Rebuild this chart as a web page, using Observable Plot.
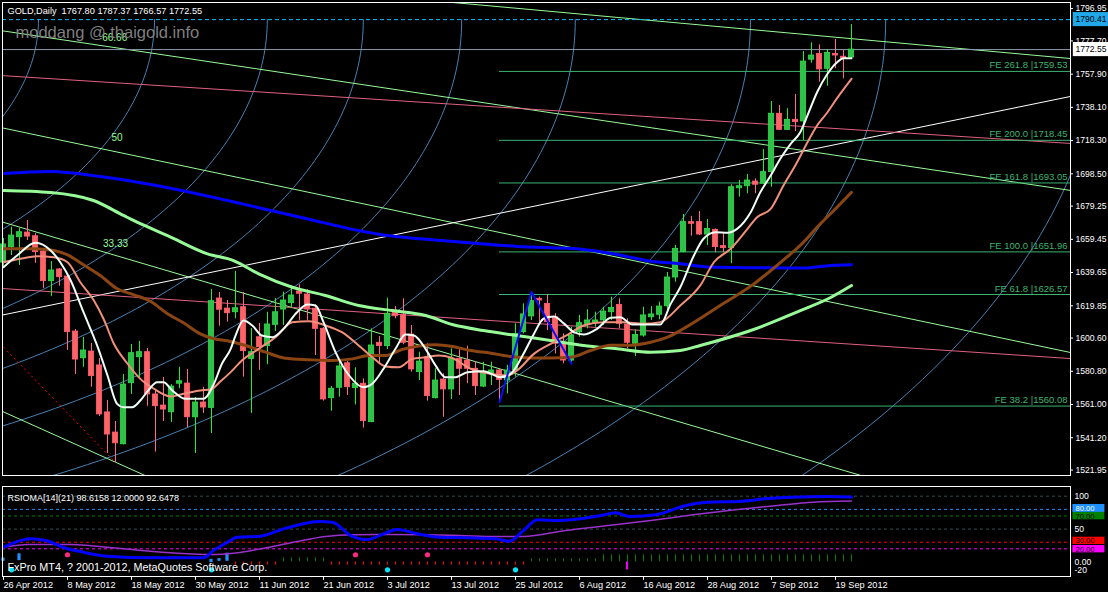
<!DOCTYPE html>
<html><head><meta charset="utf-8">
<script src="https://cdn.jsdelivr.net/npm/d3@7"></script>
<script src="https://cdn.jsdelivr.net/npm/@observablehq/plot@0.6"></script>
<style>
html,body{margin:0;padding:0;background:#000;overflow:hidden;width:1108px;height:592px;}
#chart svg{display:block;}
svg text{white-space:pre;}
</style></head><body><div id="chart"></div>
<script>
// ---------- DATA: daily GOLD candles (26 Apr 2012 .. 21 Sep 2012), bar index 0..106 ----------
const opens = [1645.6,1654.8,1660.7,1663.5,1661.3,1652.2,1634.5,1641.5,1637.3,1604.5,
1588.6,1592.6,1584.3,1556.3,1544.3,1537.3,1573.7,1589.2,1592.2,1567.0,
1560.4,1556.4,1573.4,1573.5,1553.4,1562.2,1559.0,1624.2,1618.2,1616.0,
1619.0,1588.2,1601.1,1595.8,1608.5,1617.6,1621.4,1628.4,1626.6,1618.1,
1606.1,1564.8,1571.0,1585.6,1570.8,1573.4,1550.5,1597.8,1595.8,1615.7,
1614.5,1602.7,1580.3,1589.2,1564.8,1575.9,1570.0,1588.2,1587.2,1582.3,
1571.7,1579.7,1581.3,1575.3,1581.3,1604.1,1613.5,1624.0,1621.0,1613.0,
1597.6,1587.2,1604.1,1609.1,1609.8,1611.1,1616.0,1620.4,1608.7,1597.2,
1602.1,1613.0,1614.5,1619.6,1636.7,1651.8,1669.7,1669.7,1662.3,1665.1,
1655.4,1654.2,1689.9,1691.1,1693.9,1692.6,1699.5,1734.3,1724.7,1730.7,
1729.7,1766.5,1770.0,1761.1,1770.0,1768.2,1767.80];
const highs = [1660.0,1666.7,1665.9,1670.7,1662.9,1654.0,1646.2,1642.1,1637.9,1605.7,
1601.0,1597.4,1588.4,1563.4,1550.9,1578.9,1596.8,1598.6,1594.4,1569.4,
1577.1,1572.9,1583.2,1581.9,1565.2,1571.3,1629.6,1627.8,1623.0,1640.3,
1627.8,1606.3,1609.3,1616.0,1624.2,1628.0,1631.9,1632.4,1629.4,1620.4,
1606.9,1571.7,1586.6,1586.6,1582.9,1576.3,1606.1,1601.5,1624.4,1619.4,
1624.0,1608.1,1592.2,1597.2,1582.3,1579.3,1594.2,1594.2,1595.8,1586.6,
1586.2,1586.2,1581.9,1584.3,1609.1,1621.0,1628.0,1625.0,1626.4,1615.1,
1603.1,1607.1,1614.1,1617.5,1616.0,1619.0,1625.0,1624.0,1612.1,1605.5,
1619.0,1619.4,1622.0,1639.7,1655.8,1674.3,1673.1,1676.0,1671.3,1665.7,
1662.8,1692.0,1694.5,1698.1,1695.5,1713.0,1741.6,1739.2,1737.3,1745.8,
1771.4,1776.6,1775.4,1772.6,1778.6,1772.0,1787.37];
const lows = [1643.3,1649.8,1643.9,1658.8,1645.1,1630.2,1625.4,1631.5,1593.2,1578.9,
1583.2,1571.3,1553.9,1531.8,1526.4,1536.9,1567.0,1576.0,1560.0,1532.6,
1550.9,1550.3,1570.4,1547.3,1531.8,1555.7,1543.7,1607.7,1610.1,1612.1,
1577.3,1555.7,1581.3,1584.7,1604.5,1608.1,1618.1,1611.1,1611.1,1590.2,
1563.0,1557.0,1565.4,1566.4,1560.8,1546.9,1550.2,1585.3,1593.8,1612.1,
1596.6,1580.3,1575.3,1563.0,1564.3,1553.4,1564.0,1566.4,1573.4,1566.4,
1571.1,1572.3,1561.8,1567.4,1577.3,1603.1,1611.1,1610.1,1605.1,1591.2,
1585.3,1586.2,1601.1,1606.1,1607.1,1608.1,1611.1,1606.1,1594.2,1589.6,
1601.1,1611.1,1611.5,1617.0,1633.9,1651.4,1661.3,1661.7,1655.8,1651.4,
1651.4,1644.9,1684.6,1686.6,1686.6,1692.1,1690.5,1724.3,1724.3,1723.7,
1718.4,1764.4,1753.1,1750.7,1761.1,1755.1,1766.57];
const closes = [1656.4,1661.7,1663.7,1661.1,1651.8,1634.5,1640.9,1636.9,1604.1,1587.8,
1593.2,1577.9,1555.1,1543.1,1537.9,1572.9,1591.6,1592.2,1567.0,1560.0,
1558.0,1571.7,1574.9,1553.4,1562.2,1559.2,1622.6,1617.5,1615.4,1618.4,
1592.8,1592.2,1595.2,1608.7,1616.0,1623.0,1626.0,1627.0,1617.6,1606.1,
1564.0,1570.4,1583.7,1571.3,1573.4,1551.1,1596.2,1595.8,1615.1,1613.6,
1597.8,1581.9,1586.6,1566.0,1575.3,1570.0,1588.2,1582.3,1582.3,1571.9,
1580.3,1581.3,1575.7,1581.3,1603.1,1614.7,1622.6,1623.0,1610.1,1597.2,
1587.2,1602.1,1609.5,1611.1,1611.1,1616.4,1618.6,1609.1,1597.8,1602.5,
1614.1,1614.7,1619.4,1636.7,1653.8,1669.7,1668.7,1662.3,1665.7,1654.8,
1654.2,1690.5,1691.1,1694.5,1692.0,1699.5,1734.3,1724.7,1730.7,1729.3,
1765.4,1769.0,1760.7,1770.6,1769.0,1767.4,1772.55];

// moving averages: [bar, price]
const maWhite = [[0,1642.8],[1.7,1649.8],[4,1657.4],[5.9,1652.8],[7.1,1645.8],[8.4,1634.9],[10,1616.0],[11.7,1596.2],[13,1578.3],[14.2,1561.4],[15,1559.4],[16.1,1559.4],[17.1,1563.4],[18.1,1569.4],[19.2,1574.3],[20,1574.3],[21.1,1569.4],[22.75,1564.4],[25,1564.4],[26.3,1573.4],[27.3,1585.3],[28.4,1594.2],[29,1602.1],[30,1611.1],[31.1,1608.1],[32.3,1602.1],[33.6,1601.1],[35,1606.1],[36.7,1616.0],[38,1620.6],[39,1620.0],[40,1610.1],[41.5,1592.2],[43.2,1578.3],[45,1571.3],[46.1,1573.4],[47.5,1582.3],[49,1594.2],[50.25,1602.7],[51.3,1602.1],[52.75,1594.2],[54,1584.3],[55.25,1577.3],[56.5,1577.3],[58,1580.3],[60,1580.9],[62.1,1577.3],[63.4,1579.3],[65,1591.2],[66.3,1603.1],[67.5,1612.1],[68.8,1613.5],[70,1609.5],[71.3,1604.1],[72.5,1602.7],[74.2,1606.1],[75.9,1612.7],[77.1,1613.0],[78.6,1608.7],[80.9,1608.7],[82.1,1608.7],[83.4,1621.0],[84.6,1630.9],[86.3,1649.8],[87.5,1659.8],[89,1663.7],[90.5,1663.4],[91.7,1665.7],[93.4,1675.6],[94.6,1687.5],[95.9,1697.5],[97.1,1707.5],[98.4,1716.4],[99.6,1723.3],[100.5,1733.3],[101.7,1747.1],[103,1758.1],[104.2,1765.0],[105,1767.4],[106,1767.4]];
const maSalmon = [[0,1645.8],[2.1,1647.9],[4.2,1649.4],[6.3,1648.8],[8,1645.8],[9.6,1633.9],[11.3,1623.0],[12.5,1612.1],[13.8,1597.2],[15.5,1585.3],[17.1,1576.3],[18.8,1570.4],[20.9,1565.8],[22.5,1567.4],[24.6,1569.4],[25.9,1570.0],[27.1,1574.7],[28.4,1580.3],[29.8,1587.2],[31.9,1594.2],[34,1601.1],[36.1,1610.1],[38.2,1610.7],[40.25,1608.1],[42.3,1604.1],[44.4,1596.2],[46.1,1589.2],[47.75,1583.7],[49.4,1583.2],[51.1,1588.2],[52.75,1589.2],[54.4,1590.2],[56,1588.9],[58.4,1582.3],[60.9,1579.3],[63,1578.3],[64.2,1581.3],[66.3,1591.2],[68.4,1597.2],[70.5,1602.5],[72.5,1608.1],[75,1610.1],[77.5,1610.1],[80,1609.1],[82.1,1610.1],[84.6,1620.0],[87.1,1632.0],[88.8,1645.8],[90.9,1653.8],[93,1665.7],[94.2,1672.6],[95.9,1677.6],[97.5,1691.5],[99.2,1705.4],[100.5,1717.3],[101.7,1727.3],[103,1735.2],[104.2,1743.6],[106,1755.1]];
const maBrown = [[0,1653.8],[3.8,1653.8],[6.3,1652.8],[8,1650.2],[10,1644.3],[12.1,1637.9],[14.2,1630.0],[16.3,1626.4],[18.4,1622.4],[20.5,1615.1],[22.5,1609.7],[24.6,1603.1],[26.3,1600.2],[28.1,1598.9],[30.25,1596.2],[32.75,1592.2],[35.25,1588.6],[38.2,1587.7],[41.1,1587.2],[43.6,1588.2],[45.7,1590.2],[47.75,1590.2],[49.8,1593.8],[51.9,1595.8],[54,1596.6],[56.1,1595.6],[58.4,1593.2],[60.9,1591.6],[63.4,1589.6],[65.9,1588.8],[68.4,1588.8],[70.9,1589.2],[73.4,1593.2],[75.9,1596.4],[78.4,1596.4],[80.9,1598.1],[83,1601.1],[84.6,1605.1],[89.6,1620.0],[93.8,1632.9],[97.1,1645.6],[100,1657.7],[101.7,1666.7],[104.2,1678.6],[106,1687.5]];
const maPaleGreen = [[0,1688.6],[5.9,1687.4],[11.25,1682.6],[15,1673.7],[16.25,1670.7],[20.5,1661.7],[25.5,1650.8],[28.75,1646.8],[31.9,1638.9],[36.1,1630.9],[40.25,1626.0],[44.4,1620.0],[48.6,1617.0],[52.75,1614.1],[56.1,1608.7],[60,1605.1],[64.2,1602.1],[68.4,1599.2],[72.5,1596.2],[76.7,1594.2],[80.9,1592.2],[84.6,1593.2],[87.1,1596.2],[93.4,1605.1],[99.6,1617.0],[103.4,1624.8],[106,1631.9]];
const maBlue = [[0,1698.7],[5.9,1699.9],[12.1,1696.9],[18.4,1692.1],[24.6,1686.2],[28,1682.6],[37.1,1672.6],[47.1,1662.3],[55.9,1658.3],[64.2,1655.2],[72.5,1653.4],[76.7,1650.4],[80.9,1646.4],[84.6,1644.9],[88.4,1642.9],[93.75,1642.5],[100,1642.3],[103.4,1643.9],[106,1644.3]];

// Fibonacci expansion levels
const feValues = [1759.53,1718.45,1693.05,1651.96,1626.57,1560.08];
const feLabels = ["FE 261.8 |1759.53","FE 200.0 |1718.45","FE 161.8 |1693.05","FE 100.0 |1651.96","FE 61.8 |1626.57","FE 38.2 |1560.08"];
const feStartBar = 62;

// drawn trend / fan lines: [bar1, price1, bar2, price2]
const paleLines = [[-0.375,1783.9,133.375,1688.6],[53.4,1801.8,133.375,1767.2],[-0.375,1670.1,108.4,1517.0],[-0.375,1726.1,133.375,1592.0],[-0.375,1557.4,18.4,1517.2]];
const whiteLines = [[-0.375,1614.1,133.375,1744.6]];
const pinkLines = [[-0.375,1630.2,133.375,1588.4],[-0.375,1757.1,133.375,1716.6]];
const redDotted = [[0,1595.2,14,1526.4]];
const zigzag = [[62,1562.4],[66,1628.0],[71,1585.3]];
const fanLabels = [{b:13.9,p:1779.7,t:"66.66"},{b:14.2,p:1720.1,t:"50"},{b:14,p:1657.0,t:"33.33"}];

// Fibonacci arcs: common centre, radii (bars / price)
const arcCenterBar = -69.125, arcCenterPrice = 1790.41;
const arcRxBars = [73.5,88,102.1,114.1,126.4,140.6,162.5,179.4,206.5];
const arcRyPrice = [168.2,201.4,233.7,261.1,289.1,321.8,371.8,410.4,472.5];

const priceTicks = [1796.95,1777.70,1757.90,1738.10,1718.30,1698.50,1679.25,1659.45,1639.65,1619.85,1600.60,1580.80,1561.00,1541.20,1521.95];
const dashLevel = 1790.41, bidLevel = 1772.55;

// RSIOMA indicator
const rsioma = [[0,22.4],[3.4,35.2],[5.25,32.6],[8,20.0],[10,14.8],[13,8.7],[18.4,6.3],[25,6.3],[26.25,17.4],[28,30.0],[29.2,37.6],[32.1,39.2],[35,50.4],[37.1,57.0],[39.4,61.5],[41.1,60.5],[43.4,40.2],[45.5,34.1],[47.5,42.8],[49.2,49.4],[51.75,42.8],[54.4,37.6],[57.9,36.7],[61.5,35.2],[63.2,31.6],[65,47.8],[66.75,64.1],[69.4,63.0],[72.1,65.6],[74.7,70.6],[76.5,74.8],[78.25,69.1],[81.75,72.2],[85.3,85.9],[88,90.9],[92.4,92.4],[95,96.0],[98.6,98.5],[103,99.5],[106,98.6]];
const rsiSignal = [[0,22.4],[3.1,26.5],[8.5,26.5],[12.9,22.4],[17.25,17.4],[21.7,13.3],[26.1,11.3],[28.75,13.3],[33.2,22.4],[36.7,31.1],[40.25,38.7],[43.75,41.3],[48.2,41.7],[52.6,41.3],[57,40.2],[61.5,38.7],[65,38.7],[70.25,47.8],[75.6,55.4],[80.9,63.0],[86.2,71.7],[91.5,79.3],[96.75,85.9],[101.2,90.9],[106,92.6]];
const histogram = [null,null,null,null,null,null,null,null,null,null,
null,null,null,null,null,null,null,null,null,null,
null,null,null,null,null,null,null,null,null,-5,
-5,-5,-5,-5,-5,6,6,6,6,6,
6,-5,-5,-5,-5,-5,-5,-5,-5,-5,
-5,-5,-5,-5,-5,-5,-5,-5,-5,-5,
-5,-5,-5,-5,-5,-5,5,5,5,5,
5,5,5,5,5,11,11,11,11,11,
11,11,11,11,11,11,11,11,11,11,
11,11,11,11,11,11,11,11,11,11,
11,11,11,11,11,11,11];
const blueBarIdx = [0,2,26,27,28], blueBarLo = [1,2,-1,1,1], blueBarHi = [6,12.4,4,5,13.3];
const pinkDotIdx = [8,44,53], pinkDotVal = 11;
const cyanDotIdx = [1,26,48,64], cyanDotVal = -12;
const magentaBar = {i:78, lo:-12, hi:0};
const levels = [{v:100,c:"#2f4f4f"},{v:80,c:"#1e90ff"},{v:70,c:"#008000"},{v:50,c:"#2f4f4f"},{v:30,c:"#ff0000"},{v:20,c:"#ff00ff"}];
const indLabels = [{v:100,t:"100"},{v:50,t:"50"},{v:0,t:"0.00"},{v:-12,t:"-20"}];
const indBoxes = [{lo:75.3,hi:87.4,t:"80.00",bg:"#1e90ff",fg:"#ffffff"},{lo:64.1,hi:75.3,t:"70.00",bg:"#008000",fg:"#000000"},{lo:26.5,hi:37.6,t:"30.00",bg:"#ff0000",fg:"#000000"},{lo:13.9,hi:25,t:"20.00",bg:"#ff00ff",fg:"#000000"}];

const dateTickIdx = [0,8,16,24,32,40,48,56,64,72,80,88,96,104];
const dateLabels = ["26 Apr 2012","8 May 2012","18 May 2012","30 May 2012","11 Jun 2012","21 Jun 2012","3 Jul 2012","13 Jul 2012","25 Jul 2012","6 Aug 2012","16 Aug 2012","28 Aug 2012","7 Sep 2012","19 Sep 2012"];

const headerText = "GOLD,Daily  1767.80 1787.37 1766.57 1772.55";
const watermark = "moddang @ thaigold.info";
const indTitle = "RSIOMA[14](21) 98.6158 12.0000 92.6478";
const copyright = "FxPro MT4, ? 2001-2012, MetaQuotes Software Corp.";

// ---------- BUILD ----------
const XMIN = -0.125, XMAX = 133.375;
const FONT = "'Liberation Sans', Arial, sans-serif";
const candles = opens.map((o,i)=>({i, o, h:highs[i], l:lows[i], c:closes[i], up: closes[i] >= o}));
const arcPts = arcRxBars.flatMap((rx,k)=>d3.range(0,121).map(j=>{const t=j/120*Math.PI/2; return {k, x: arcCenterBar + rx*Math.cos(t), y: arcCenterPrice - arcRyPrice[k]*Math.sin(t)};}));
const seg = (arr) => arr.map(a=>({x1:a[0],y1:a[1],x2:a[2],y2:a[3]}));

const main = Plot.plot({
  width:1108, height:478, marginLeft:2, marginRight:38, marginTop:2, marginBottom:3,
  style:{background:"#000", color:"#fff", fontFamily:FONT, fontSize:"9px"},
  x:{domain:[XMIN,XMAX], axis:null},
  y:{domain:[1518.7,1800.6], axis:null},
  marks:[
    Plot.line(arcPts,{x:"x",y:"y",z:"k",stroke:"#4682b4",strokeWidth:1,clip:true}),
    Plot.link(seg(paleLines),{x1:"x1",y1:"y1",x2:"x2",y2:"y2",stroke:"#98fb98",strokeWidth:1,clip:true}),
    Plot.link(seg(whiteLines),{x1:"x1",y1:"y1",x2:"x2",y2:"y2",stroke:"#ffffff",strokeWidth:1,clip:true}),
    Plot.link(seg(pinkLines),{x1:"x1",y1:"y1",x2:"x2",y2:"y2",stroke:"#e06080",strokeWidth:1,clip:true}),
    Plot.link(seg(redDotted),{x1:"x1",y1:"y1",x2:"x2",y2:"y2",stroke:"#ff0000",strokeWidth:1,strokeDasharray:"2,3",clip:true}),
    Plot.ruleY(feValues,{x1:()=>feStartBar,x2:()=>XMAX,stroke:"#3cb371",strokeWidth:1}),
    Plot.text(feValues,{frameAnchor:"right",y:d=>d,text:(d,i)=>feLabels[i],textAnchor:"end",dx:-3,dy:-6,fill:"#3cb371",fontSize:9.5}),
    Plot.ruleY([dashLevel],{stroke:"#00bfff",strokeWidth:1,strokeDasharray:"4,3"}),
    Plot.ruleY([bidLevel],{stroke:"#8899aa",strokeWidth:1}),
    Plot.ruleX(candles,{x:"i",y1:"l",y2:"h",stroke:d=>d.up?"#22ee22":"#ff6a8a",strokeWidth:1}),
    Plot.rect(candles,{x1:d=>d.i-0.33,x2:d=>d.i+0.33,y1:d=>Math.min(d.o,d.c),y2:d=>Math.max(d.o,d.c,Math.min(d.o,d.c)+0.9),fill:d=>d.up?"#2fbf4a":"#ff6464",stroke:d=>d.up?"#33dd44":"#ff5f75",strokeWidth:0.8}),
    Plot.line(maBlue,{x:d=>d[0],y:d=>d[1],stroke:"#0000ff",strokeWidth:3,curve:"monotone-x"}),
    Plot.line(maPaleGreen,{x:d=>d[0],y:d=>d[1],stroke:"#98fb98",strokeWidth:3,curve:"monotone-x"}),
    Plot.line(maBrown,{x:d=>d[0],y:d=>d[1],stroke:"#8b4513",strokeWidth:3,curve:"monotone-x"}),
    Plot.line(maSalmon,{x:d=>d[0],y:d=>d[1],stroke:"#f0907a",strokeWidth:2,curve:"monotone-x"}),
    Plot.line(maWhite,{x:d=>d[0],y:d=>d[1],stroke:"#f0fff8",strokeWidth:2,curve:"monotone-x"}),
    Plot.line(zigzag,{x:d=>d[0],y:d=>d[1],stroke:"#0a0aff",strokeWidth:2}),
    Plot.text(fanLabels,{x:"b",y:"p",text:"t",fill:"#98fb98",fontSize:10}),
    Plot.text([watermark],{frameAnchor:"top-left",dx:13,dy:30,lineAnchor:"middle",text:d=>d,fill:"#7f7f7f",fontSize:16.5}),
    Plot.text([headerText],{frameAnchor:"top-left",dx:5,dy:9,lineAnchor:"middle",text:d=>d,fill:"#ffffff",fontSize:9.2}),
    Plot.frame({stroke:"#ffffff"}),
    Plot.ruleY(priceTicks,{x1:()=>XMAX,x2:()=>XMAX+0.375,stroke:"#ffffff",clip:false}),
    Plot.text(priceTicks,{frameAnchor:"right",y:d=>d,text:d=>d.toFixed(2),textAnchor:"start",dx:5,fill:"#ffffff",fontSize:8.6}),
    Plot.rect([dashLevel],{x1:()=>XMAX+0.35,x2:()=>XMAX+5,y1:d=>d-4.2,y2:d=>d+4.2,fill:"#20a8e8"}),
    Plot.text([dashLevel],{frameAnchor:"right",y:d=>d,text:d=>d.toFixed(2),textAnchor:"start",dx:5,fill:"#000000",fontSize:8.6}),
    Plot.rect([bidLevel],{x1:()=>XMAX+0.35,x2:()=>XMAX+5,y1:d=>d-4.2,y2:d=>d+4.2,fill:"#ffffff"}),
    Plot.text([bidLevel],{frameAnchor:"right",y:d=>d,text:d=>d.toFixed(2),textAnchor:"start",dx:5,fill:"#000000",fontSize:8.6})
  ]
});

const histData = histogram.map((v,i)=>({i,v})).filter(d=>d.v!==null);
const blueBars = blueBarIdx.map((i,k)=>({i,lo:blueBarLo[k],hi:blueBarHi[k]}));

const ind = Plot.plot({
  width:1108, height:114, marginLeft:2, marginRight:38, marginTop:8, marginBottom:16,
  style:{background:"#000", color:"#fff", fontFamily:FONT, fontSize:"9px"},
  x:{domain:[XMIN,XMAX], axis:null},
  y:{domain:[-22.1,114.75], axis:null},
  marks:[
    Plot.ruleY(levels,{y:"v",stroke:"c",strokeWidth:1,strokeDasharray:"3,3"}),
    Plot.ruleX(histData,{x:"i",y1:()=>0,y2:"v",stroke:d=>d.v>0?"#008000":"#ff0000",strokeWidth:1}),
    Plot.rect(blueBars,{x1:d=>d.i-0.2,x2:d=>d.i+0.2,y1:"lo",y2:"hi",fill:"#1e90ff"}),
    Plot.rect([magentaBar],{x1:d=>d.i-0.12,x2:d=>d.i+0.12,y1:"lo",y2:"hi",fill:"#ff00ff"}),
    Plot.line(rsiSignal,{x:d=>d[0],y:d=>d[1],stroke:"#9932cc",strokeWidth:1.5,curve:"monotone-x"}),
    Plot.line(rsioma,{x:d=>d[0],y:d=>d[1],stroke:"#0000ff",strokeWidth:3,curve:"monotone-x"}),
    Plot.dot(pinkDotIdx,{x:d=>d,y:()=>pinkDotVal,r:2.6,fill:"#ff2a80"}),
    Plot.dot(cyanDotIdx,{x:d=>d,y:()=>cyanDotVal,r:2.6,fill:"#00e5ff"}),
    Plot.text([indTitle],{frameAnchor:"top-left",dx:5,dy:12,lineAnchor:"middle",text:d=>d,fill:"#ffffff",fontSize:9}),
    Plot.text([copyright],{frameAnchor:"bottom-left",dx:5,dy:-9,lineAnchor:"middle",text:d=>d,fill:"#ffffff",fontSize:10.8}),
    Plot.frame({stroke:"#ffffff"}),
    Plot.ruleX(dateTickIdx,{x:d=>d,y1:()=>-22.1,y2:()=>-28,stroke:"#ffffff",clip:false}),
    Plot.text(dateTickIdx,{x:d=>d,frameAnchor:"bottom",dy:9,lineAnchor:"middle",textAnchor:"start",text:(d,i)=>dateLabels[i],fill:"#ffffff",fontSize:9.2}),
    Plot.text(indLabels,{frameAnchor:"right",y:"v",text:"t",textAnchor:"start",dx:4,fill:"#ffffff",fontSize:8.6}),
    Plot.rect(indBoxes,{x1:()=>XMAX+0.3,x2:()=>XMAX+4.3,y1:"lo",y2:"hi",fill:"bg"}),
    Plot.text(indBoxes,{frameAnchor:"right",y:d=>(d.lo+d.hi)/2,text:"t",textAnchor:"start",dx:5,fill:"fg",fontSize:7.6})
  ]
});

const root = document.getElementById("chart");
root.appendChild(main);
root.appendChild(ind);
</script>
</body></html>
